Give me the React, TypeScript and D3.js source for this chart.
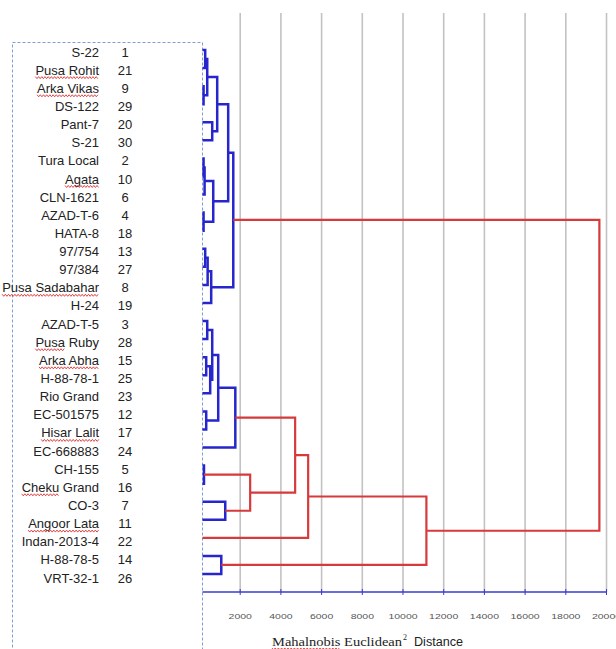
import * as d3 from "d3";
import React, { useEffect, useRef } from "react";

// genotypes in the order they sit in the dendrogram (top to bottom)
const genotypes = [
  "S-22", "Pusa Rohit", "Arka Vikas", "DS-122", "Pant-7", "S-21", "Tura Local",
  "Agata", "CLN-1621", "AZAD-T-6", "HATA-8", "97/754", "97/384", "Pusa Sadabahar",
  "H-24", "AZAD-T-5", "Pusa Ruby", "Arka Abha", "H-88-78-1", "Rio Grand",
  "EC-501575", "Hisar Lalit", "EC-668883", "CH-155", "Cheku Grand", "CO-3",
  "Angoor Lata", "Indan-2013-4", "H-88-78-5", "VRT-32-1",
];
const genotypeNo = [
  1, 21, 9, 29, 20, 30, 2, 10, 6, 4, 18, 13, 27, 8, 19,
  3, 28, 15, 25, 23, 12, 17, 24, 5, 16, 7, 11, 22, 14, 26,
];

// merge table, hclust style: negative = leaf (1-based, order above), positive = earlier step
const mergePairs: [number, number][] = [
  [-1, -2], [-3, -4], [1, 2], [-5, -6], [3, 4],
  [-7, -8], [6, -9], [-10, -11], [7, 8], [5, 9],
  [-12, -13], [11, -14], [12, -15], [10, 13],
  [-16, -17], [-18, -19], [16, -20], [15, 17], [-21, -22], [18, 19], [20, -23],
  [-24, -25], [-26, -27], [22, 23], [21, 24], [25, -28], [-29, -30], [26, 27],
  [14, 28],
];
const mergeHeights = [
  280, 200, 380, 625, 870,
  200, 250, 200, 675, 1410,
  280, 400, 575, 1660,
  380, 330, 525, 625, 330, 920, 1760,
  220, 1265, 2490, 4700, 5340, 1070, 11150,
  19650,
];
const cutHeight = 2000;

const distTicks = [2000, 4000, 6000, 8000, 10000, 12000, 14000, 16000, 18000, 20000];

// words the spell checker marked with a red wavy line
const misspelt = [
  "Pusa Rohit", "Arka Vikas", "Agata", "Pusa Sadabahar", "Pusa",
  "Arka Abha", "Hisar Lalit", "Cheku", "Angoor Lata",
];

const BLUE = "#2626cc";
const RED = "#d63a3a";

export default function App() {
  const svgRef = useRef<SVGSVGElement>(null);

  useEffect(() => {
    const svg = d3.select(svgRef.current);
    svg.selectAll("*").remove();

    const x = d3.scaleLinear().domain([0, 20000]).range([199.5, 606.5]);
    const leafX = 202.5;
    const axisY = 592;
    const yLeaf = d3.scalePoint<number>().domain(d3.range(genotypes.length)).range([50, 574]);
    const yLabel = d3.scalePoint<number>().domain(d3.range(genotypes.length)).range([52, 578]);

    // squiggly underline
    const squiggle = (x0: number, x1: number, y: number) => {
      const pts: [number, number][] = [];
      let k = 0;
      for (let px = x0; px <= x1; px += 1.6, k++) pts.push([px, y + (k % 2 ? 1 : -1)]);
      svg.append("path")
        .attr("d", d3.line()(pts))
        .attr("fill", "none")
        .attr("stroke", "#e03030")
        .attr("stroke-width", 0.9);
    };

    // grid lines
    svg.append("g")
      .selectAll("line")
      .data(distTicks)
      .enter()
      .append("line")
      .attr("x1", (d) => x(d))
      .attr("x2", (d) => x(d))
      .attr("y1", 13)
      .attr("y2", axisY)
      .attr("stroke", "#c2c2c2")
      .attr("stroke-width", 1.6);

    // dashed frame around the labels
    svg.append("rect")
      .attr("x", 12.5)
      .attr("y", 42.5)
      .attr("width", leafX - 12.5)
      .attr("height", 700)
      .attr("fill", "none")
      .attr("stroke", "#7f9cd2")
      .attr("stroke-dasharray", "3,2")
      .attr("stroke-width", 1);

    // axis
    const axis = svg.append("g");
    axis.append("line")
      .attr("x1", leafX)
      .attr("x2", x(20000))
      .attr("y1", axisY)
      .attr("y2", axisY)
      .attr("stroke", "#3a3ad0")
      .attr("stroke-width", 1.4);
    axis.selectAll(".tk")
      .data(distTicks)
      .enter()
      .append("line")
      .attr("x1", (d) => x(d))
      .attr("x2", (d) => x(d))
      .attr("y1", axisY - 3)
      .attr("y2", axisY + 3)
      .attr("stroke", "#3a3ad0")
      .attr("stroke-width", 1);
    axis.selectAll("text")
      .data(distTicks)
      .enter()
      .append("text")
      .attr("transform", (d) => `translate(${x(d)},${619}) scale(1.4,1)`)
      .attr("text-anchor", "middle")
      .style("font-family", "'Liberation Sans', Arial, sans-serif")
      .style("font-size", "7.5px")
      .style("fill", "#555")
      .text((d) => d);

    // dendrogram
    const tree = svg.append("g").attr("fill", "none");
    const nodes: { x: number; y: number }[] = [];
    const pos = (id: number) => (id < 0 ? { x: leafX, y: yLeaf(-id - 1)! } : nodes[id - 1]);
    mergePairs.forEach(([a, b], k) => {
      const pa = pos(a);
      const pb = pos(b);
      const nx = x(mergeHeights[k]);
      const red = mergeHeights[k] >= cutHeight;
      tree.append("path")
        .attr("d", `M${pa.x},${pa.y}H${nx}V${pb.y}H${pb.x}`)
        .attr("stroke", red ? RED : BLUE)
        .attr("stroke-width", red ? 2.2 : 2.5)
        .attr("stroke-linejoin", "miter");
      nodes.push({ x: nx, y: (pa.y + pb.y) / 2 });
    });

    // labels
    const labelFont = "'Liberation Sans', Arial, sans-serif";
    genotypes.forEach((name, i) => {
      const y = yLabel(i)!;
      const t = svg.append("text")
        .attr("x", 99)
        .attr("y", y)
        .attr("dy", "0.35em")
        .attr("text-anchor", "end")
        .style("font-family", labelFont)
        .style("font-size", "13px")
        .style("fill", "#222")
        .text(name);
      svg.append("text")
        .attr("x", 125)
        .attr("y", y)
        .attr("dy", "0.35em")
        .attr("text-anchor", "middle")
        .style("font-family", labelFont)
        .style("font-size", "13px")
        .style("fill", "#222")
        .text(genotypeNo[i]);

      const hit = misspelt.filter((w) => name.startsWith(w)).sort((p, q) => q.length - p.length)[0];
      if (hit) {
        const node = t.node() as SVGTextElement;
        const full = node.getComputedTextLength();
        const sub = node.getSubStringLength(0, hit.length);
        const x0 = 99 - full;
        squiggle(x0, x0 + sub, y + 7.5);
      }
    });

    // axis title
    const title = svg.append("text")
      .attr("x", 272)
      .attr("y", 646)
      .attr("textLength", 130)
      .attr("lengthAdjust", "spacingAndGlyphs")
      .style("font-family", "'Liberation Serif', 'Times New Roman', serif")
      .style("font-size", "13px")
      .style("fill", "#222")
      .text("Mahalnobis Euclidean");
    svg.append("text")
      .attr("x", 403)
      .attr("y", 640)
      .style("font-family", "'Liberation Serif', 'Times New Roman', serif")
      .style("font-size", "8px")
      .style("fill", "#222")
      .text("2");
    svg.append("text")
      .attr("x", 414)
      .attr("y", 646)
      .attr("textLength", 49)
      .attr("lengthAdjust", "spacingAndGlyphs")
      .style("font-family", labelFont)
      .style("font-size", "12.5px")
      .style("fill", "#222")
      .text("Distance");
    const tn = title.node() as SVGTextElement;
    squiggle(272, 272 + tn.getSubStringLength(0, 10), 649);
  }, []);

  return (
    <svg
      ref={svgRef}
      width={616}
      height={649}
      style={{ position: "absolute", left: 0, top: 0, background: "#fff" }}
    />
  );
}
